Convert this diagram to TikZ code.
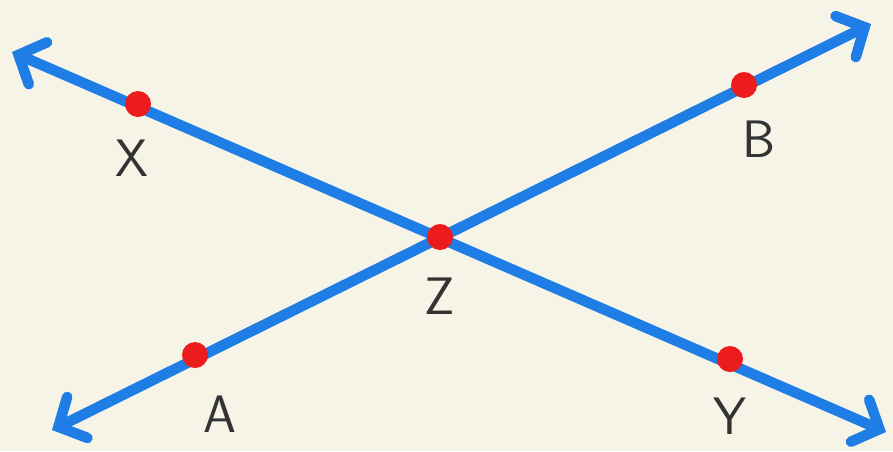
\documentclass[tikz,border=0pt]{standalone}
\usepackage{tikz}
\usetikzlibrary{arrows.meta,positioning}
\definecolor{paper}{HTML}{F6F3E7}
\definecolor{lineblue}{HTML}{1F7DE6}
\definecolor{dotred}{HTML}{EC1C1C}
\tikzset{
    %Define standard arrow tip
    >={Straight Barb[length=12pt,width=26pt,line cap=round]},
    %Define style for the lines
    linie/.style={
           <->,
           draw=lineblue,
           line width=6pt,
           line cap=round},
    %Define style for the points
    punkt/.style={
           circle,
           fill=dotred,
           inner sep=0pt,
           minimum size=0.52cm},
    %Define style for the labels
    etikett/.style={
           font=\sffamily\fontsize{30}{32}\selectfont,
           text=black!80,
           inner sep=0pt}
}
\begin{document}
\begin{tikzpicture}[x=0.02cm,y=-0.02cm]
\useasboundingbox[fill=paper] (0,0) rectangle (893,451);
% ends of the two lines
\coordinate (xend) at (12,52);
\coordinate (yend) at (886,432);
\coordinate (aend) at (52,430);
\coordinate (bend) at (871,24);
\draw[linie] (xend) -- (yend);
\draw[linie] (aend) -- (bend);
% points
\node[punkt](X) at (138,104){};
\node[punkt](Y) at (730,359){};
\node[punkt](A) at (195,355){};
\node[punkt](B) at (744,85){};
\node[punkt](Z) at (440,237){};
% labels
\node[etikett, below=0.45cm of X, xshift=-0.12cm]{X};
\node[etikett, below=0.45cm of B, xshift=0.3cm]{B};
\node[etikett, below=0.55cm of Z]{Z};
\node[etikett, below=0.55cm of A, xshift=0.5cm]{A};
\node[etikett, below=0.5cm of Y]{Y};
\end{tikzpicture}
\end{document}
